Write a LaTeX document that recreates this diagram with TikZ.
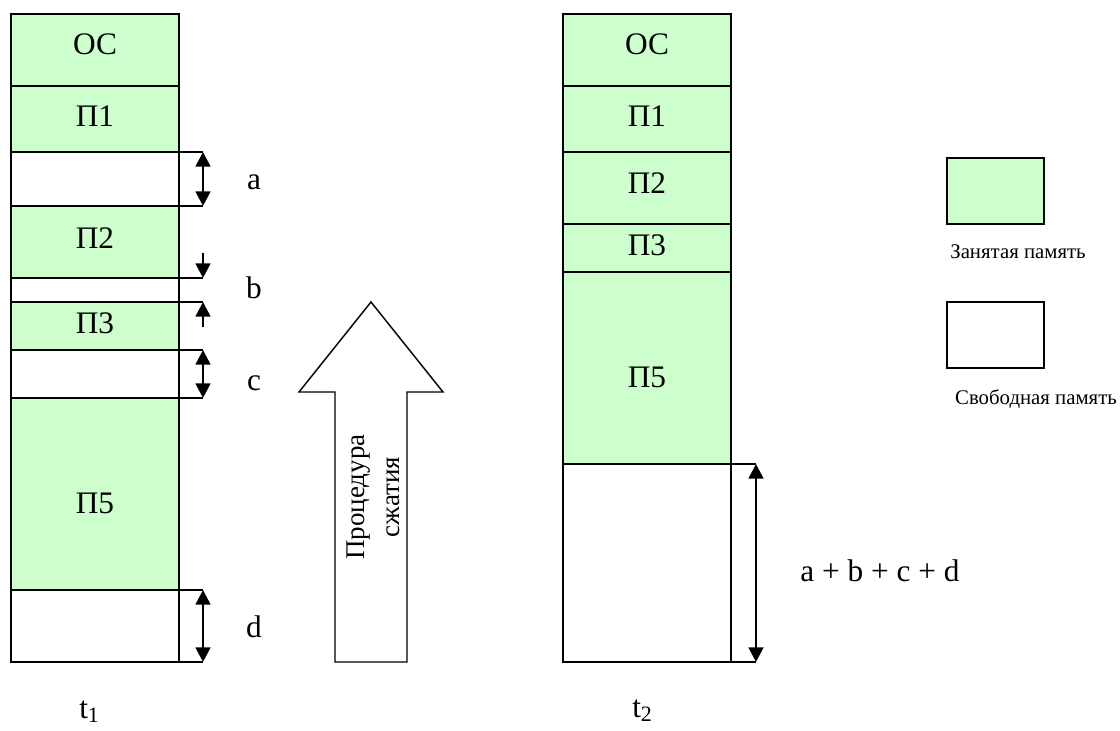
\documentclass[tikz,border=0pt]{standalone}
\usepackage{fontspec}
\setmainfont{Liberation Serif}
\usetikzlibrary{arrows.meta}
\definecolor{occgreen}{HTML}{CCFFCC}
\tikzset{
  occbox/.style={fill=occgreen,draw=black,line width=1.1pt},
  freebox/.style={fill=white,draw=black,line width=1.1pt},
  tickln/.style={draw=black,line width=1.1pt},
  dimarrow/.style={line width=2pt,{Triangle[length=11pt,width=11pt]}-{Triangle[length=11pt,width=11pt]}},
  onearrow/.style={line width=2pt,-{Triangle[length=11pt,width=11pt]}},
  lbl/.style={font=\fontsize{23.5pt}{28pt}\selectfont,anchor=base,inner sep=0pt},
  arrtxt/.style={font=\fontsize{20.25pt}{26pt}\selectfont,align=center,rotate=90,inner sep=0pt},
  legtxt/.style={font=\fontsize{15.6pt}{19pt}\selectfont,anchor=base,inner sep=0pt},
}
\begin{document}
\begin{tikzpicture}[x=0.75pt,y=-0.75pt]
\useasboundingbox (0,0) rectangle (1120,731);

% ---------- left column (t1) ----------
\path[occbox]  (11,14)  rectangle (179,86);
\path[occbox]  (11,86)  rectangle (179,152);
\path[freebox] (11,152) rectangle (179,206);
\path[occbox]  (11,206) rectangle (179,278);
\path[freebox] (11,278) rectangle (179,302);
\path[occbox]  (11,302) rectangle (179,350);
\path[freebox] (11,350) rectangle (179,398);
\path[occbox]  (11,398) rectangle (179,590);
\path[freebox] (11,590) rectangle (179,662);

\node[lbl] (lOS) at (95,55) {ОС};
\node[lbl] (lP1) at (95,127) {П1};
\node[lbl] (lP2) at (95,248) {П2};
\node[lbl] (lP3) at (95,333) {П3};
\node[lbl] (lP5) at (95,513) {П5};

% tick coordinates
\foreach \n/\y in {a1/152,a2/206,b1/278,b2/302,c1/350,c2/398,d1/590,d2/662}{
  \coordinate (s\n) at (179,\y);
  \coordinate (e\n) at (203,\y);
  \draw[tickln] (s\n) -- (e\n);
}
\coordinate (bt) at (203,253);
\coordinate (bb) at (203,327);

\draw[dimarrow] (ea1) -- (ea2);
\draw[onearrow] (bt) -- (eb1);
\draw[onearrow] (bb) -- (eb2);
\draw[dimarrow] (ec1) -- (ec2);
\draw[dimarrow] (ed1) -- (ed2);

\node[lbl] (la) at (254,190) {a};
\node[lbl] (lb) at (254,298) {b};
\node[lbl] (lc) at (254,390) {c};
\node[lbl] (ld) at (254,637) {d};

\node[lbl,anchor=base west] (t1) at (79,718) {t\textsubscript{1}};

% ---------- compression arrow ----------
\draw[line width=1.1pt,fill=white] (335,662) -- (335,392) -- (299,392) -- (371,302)
  -- (443,392) -- (407,392) -- (407,662) -- cycle;
\node[arrtxt] (proc) at (373,497) {Процедура\\сжатия};

% ---------- right column (t2) ----------
\path[occbox]  (563,14)  rectangle (731,86);
\path[occbox]  (563,86)  rectangle (731,152);
\path[occbox]  (563,152) rectangle (731,224);
\path[occbox]  (563,224) rectangle (731,272);
\path[occbox]  (563,272) rectangle (731,464);
\path[freebox] (563,464) rectangle (731,662);

\node[lbl] (rOS) at (647,55) {ОС};
\node[lbl] (rP1) at (647,127) {П1};
\node[lbl] (rP2) at (647,193) {П2};
\node[lbl] (rP3) at (647,255) {П3};
\node[lbl] (rP5) at (647,387) {П5};

\coordinate (sr1) at (731,464);
\coordinate (er1) at (756,464);
\coordinate (sr2) at (731,662);
\coordinate (er2) at (756,662);
\draw[tickln] (sr1) -- (er1);
\draw[tickln] (sr2) -- (er2);
\draw[dimarrow] (er1) -- (er2);

\node[lbl] (sum) at (880,581) {a + b + c + d};

\node[lbl,anchor=base west] (t2) at (632,717) {t\textsubscript{2}};

% ---------- legend ----------
\path[occbox]  (947,158) rectangle (1044,224);
\path[freebox] (947,302) rectangle (1044,368);
\node[legtxt] (lgocc) at (1018,258) {Занятая память};
\node[legtxt] (lgfree) at (1036,404) {Свободная память};

\end{tikzpicture}
\end{document}
